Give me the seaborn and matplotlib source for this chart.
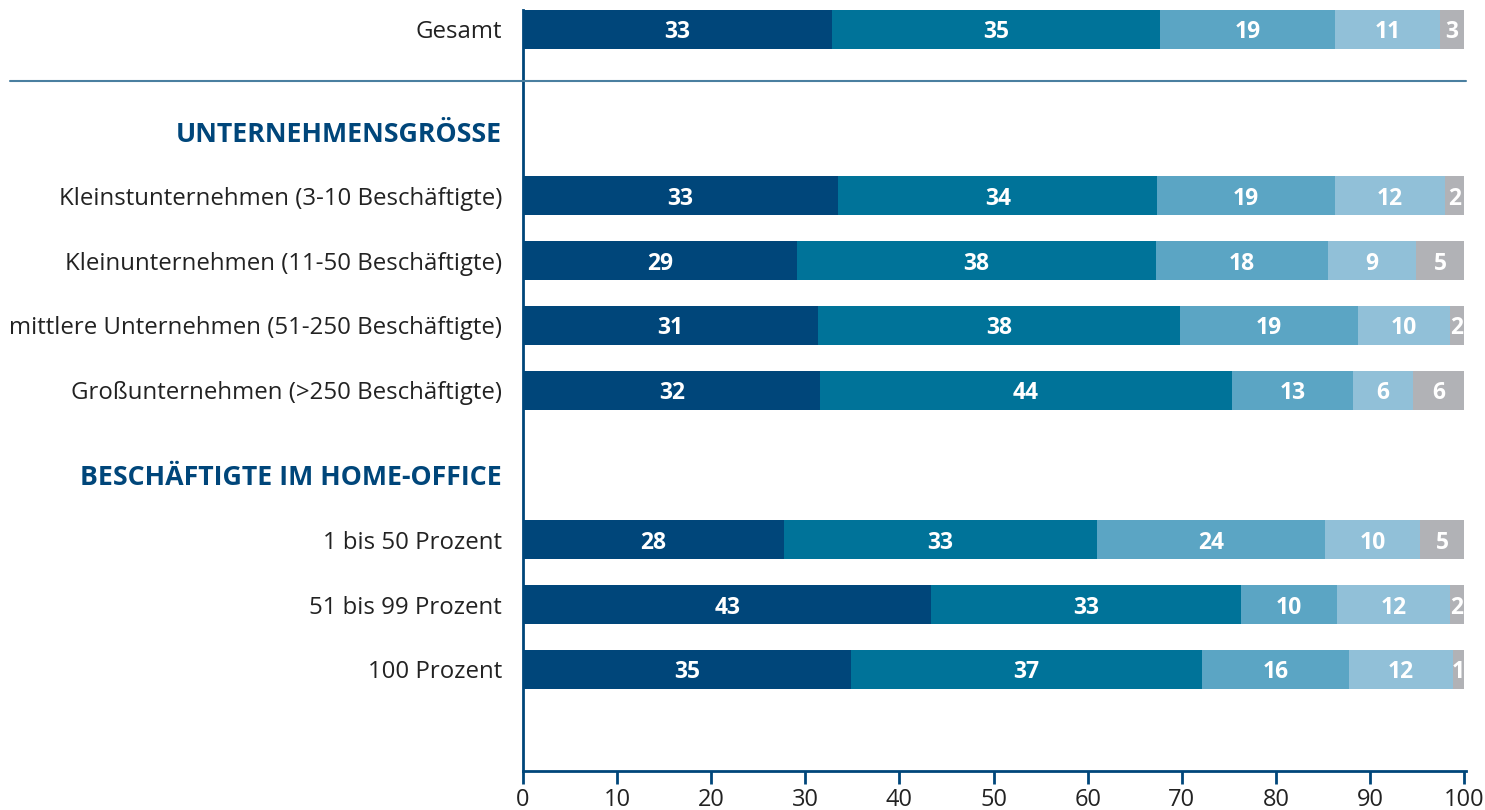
import numpy as np
import pandas as pd
import matplotlib
matplotlib.use("Agg")
import matplotlib.pyplot as plt
from matplotlib.lines import Line2D
from matplotlib.transforms import blended_transform_factory
import seaborn as sns

# ---------------- data ----------------
categories = [
    "Gesamt",
    "Kleinstunternehmen (3-10 Beschäftigte)",
    "Kleinunternehmen (11-50 Beschäftigte)",
    "mittlere Unternehmen (51-250 Beschäftigte)",
    "Großunternehmen (>250 Beschäftigte)",
    "1 bis 50 Prozent",
    "51 bis 99 Prozent",
    "100 Prozent",
]
# segment widths (percent)
seg1 = [32.8, 33.5, 29.1, 31.3, 31.6, 27.7, 43.4, 34.9]
seg2 = [34.9, 33.9, 38.2, 38.5, 43.7, 33.3, 32.9, 37.2]
seg3 = [18.6, 18.9, 18.2, 18.9, 12.9, 24.2, 10.2, 15.7]
seg4 = [11.1, 11.7, 9.4, 9.8, 6.4, 10.1, 12.0, 11.0]
seg5 = [2.6, 2.0, 5.1, 1.5, 5.4, 4.7, 1.5, 1.2]
# printed labels
lab1 = [33, 33, 29, 31, 32, 28, 43, 35]
lab2 = [35, 34, 38, 38, 44, 33, 33, 37]
lab3 = [19, 19, 18, 19, 13, 24, 10, 16]
lab4 = [11, 12, 9, 10, 6, 10, 12, 12]
lab5 = [3, 2, 5, 2, 6, 5, 2, 1]
headers = ["UNTERNEHMENSGRÖSSE", "BESCHÄFTIGTE IM HOME-OFFICE"]
xticks = [0, 10, 20, 30, 40, 50, 60, 70, 80, 90, 100]

# ---------------- layout ----------------
row_pos = [0.0, 2.57, 3.57, 4.57, 5.57, 7.88, 8.88, 9.88]
header_pos = [1.59, 6.88]
sep_pos = 0.79

colors = ["#00467A", "#007399", "#5BA5C4", "#91C0D8", "#B1B2B6"]
navy = "#00467A"
text_col = "#222222"

sns.set_theme(style="white")
plt.rcParams["font.family"] = ["Open Sans", "DejaVu Sans"]

fig = plt.figure(figsize=(14.85, 8.10), dpi=100)
ax = fig.add_axes([523 / 1485, 1 - 771 / 810, (1466 - 523) / 1485, (771 - 10) / 810])

segs = [seg1, seg2, seg3, seg4, seg5]
labs = [lab1, lab2, lab3, lab4, lab5]
cum = np.cumsum(np.array(segs), axis=0)

# draw cumulative bars from longest to shortest so they stack visually
for k in range(4, -1, -1):
    df = pd.DataFrame({"pos": row_pos, "val": cum[k]})
    sns.barplot(data=df, x="val", y="pos", orient="y", native_scale=True,
                color=colors[k], width=0.6, linewidth=0, saturation=1,
                errorbar=None, ax=ax)

# value labels
for k in range(5):
    starts = cum[k] - np.array(segs[k])
    for i, y in enumerate(row_pos):
        cx = starts[i] + segs[k][i] / 2
        ax.text(cx, y, str(labs[k][i]), ha="center", va="center_baseline",
                color="white", fontsize=16.5, fontweight="bold")

ax.set_xlim(0, 100.2)
ax.set_ylim(11.45, -0.30)

ax.set_xticks(xticks)
ax.set_xticklabels([str(t) for t in xticks], fontsize=17, color=text_col)
ax.set_yticks(row_pos)
ax.set_yticklabels(categories, fontsize=17.3, color=text_col)
ax.set_xlabel("")
ax.set_ylabel("")

ax.tick_params(axis="y", length=0, pad=15)
ax.tick_params(axis="x", length=9, width=2, color=navy, pad=3, direction="out")
ax.xaxis.set_ticks_position("bottom")

for s in ["top", "right"]:
    ax.spines[s].set_visible(False)
for s in ["left", "bottom"]:
    ax.spines[s].set_color(navy)
    ax.spines[s].set_linewidth(2)

trans = blended_transform_factory(ax.transAxes, ax.transData)
for h, y in zip(headers, header_pos):
    ax.text(-21 / 943, y, h, transform=trans, ha="right", va="center_baseline",
            fontsize=19.3, fontweight="bold", color=navy)

# separator line below "Gesamt"
ysep = ax.transData.transform((0, sep_pos))[1]
yfig = fig.transFigure.inverted().transform((0, ysep))[1]
fig.add_artist(Line2D([10 / 1485, 1466 / 1485], [yfig, yfig], color="#4A7FA0",
                      linewidth=1.5, transform=fig.transFigure))

fig.savefig("out.png", dpi=100)
